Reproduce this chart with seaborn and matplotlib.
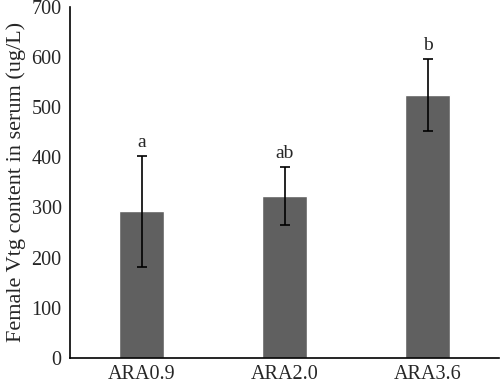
import numpy as np
import pandas as pd
import matplotlib
matplotlib.use("Agg")
import matplotlib.pyplot as plt
import seaborn as sns

groups = ["ARA0.9", "ARA2.0", "ARA3.6"]
vtg_mean = [292, 323, 525]
vtg_err = [110, 58, 72]
letters = ["a", "ab", "b"]

data = pd.DataFrame({"group": groups, "vtg": vtg_mean})

sns.set_style("white")
plt.rcParams["font.family"] = ["Liberation Serif", "DejaVu Serif"]

fig = plt.figure(figsize=(5, 3.84), dpi=100)
ax = fig.add_axes([0.14, 0.068, 0.858, 0.914])

sns.barplot(data=data, x="group", y="vtg", color="#606060", saturation=1,
            width=0.315, errorbar=None, ax=ax)
ax.errorbar(np.arange(len(groups)), vtg_mean, yerr=vtg_err, fmt="none",
            ecolor="black", elinewidth=1.2, capsize=3.6, capthick=1.2)

for i, (m, e, lab) in enumerate(zip(vtg_mean, vtg_err, letters)):
    ax.text(i, m + e + 10, lab, ha="center", va="bottom", fontsize=14)

ax.set_ylim(0, 700)
ax.set_xlim(-0.5, len(groups) - 0.5)
ax.set_yticks(range(0, 701, 100))
ax.set_xlabel("")
ax.set_ylabel("Female Vtg content in serum (ug/L)", fontsize=16, labelpad=4)

ax.set_xticks(np.arange(-0.5, len(groups), 1.0), minor=True)
ax.tick_params(axis="x", which="major", length=0, pad=5, labelsize=14.5)
ax.tick_params(axis="x", which="minor", direction="in", length=5, width=1, color="black")
ax.tick_params(axis="y", length=0, pad=6, labelsize=14.5)

sns.despine(ax=ax)
for s in ["left", "bottom"]:
    ax.spines[s].set_color("black")
    ax.spines[s].set_linewidth(1.2)

fig.savefig("out.png", dpi=100)
